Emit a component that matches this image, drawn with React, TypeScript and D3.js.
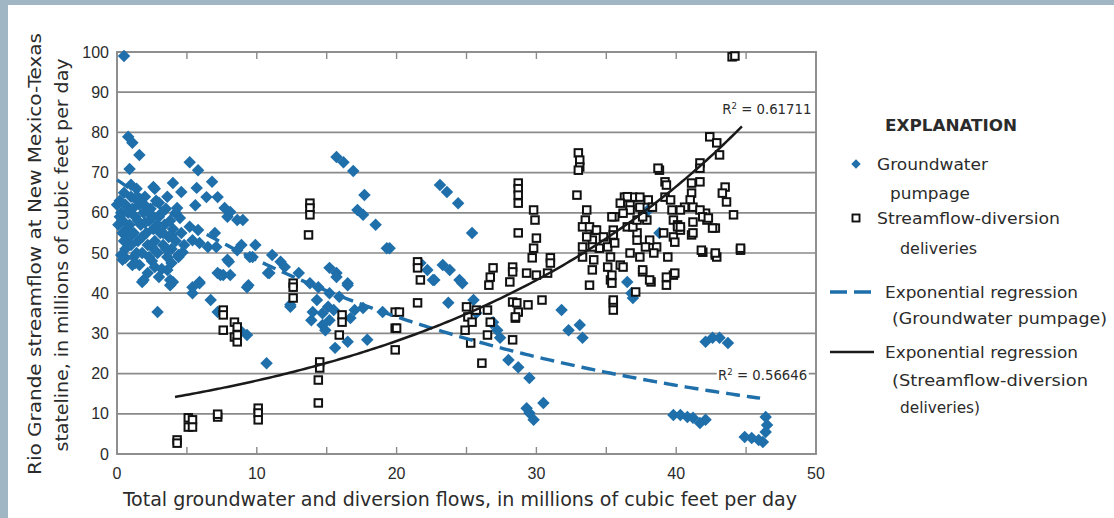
import React, { useEffect, useRef } from 'react';
import * as d3 from 'd3';

// groundwater pumpage points [total flow, streamflow]
const pumpage: [number, number][] = [
  [0.5, 99], [0.8, 78.9], [1.1, 77.4], [1.6, 74.4], [0.9, 70.9], [5.2, 72.6], [5.8, 70.6], [4.0, 67.4],
  [4.6, 65.2], [2.6, 66.4], [5.7, 66.2], [6.8, 67.7], [6.4, 63.9], [7.2, 63.9], [5.6, 61.9], [7.7, 61.2],
  [7.9, 59.0], [8.6, 58.2],
  [0.6, 48.8], [1.9, 43.3], [1.3, 47.5], [3.9, 47.5], [4.4, 49.5], [4.7, 50.2], [3.6, 45.8], [4.0, 42.8],
  [5.4, 41.5], [5.9, 42.8], [7.2, 45.0], [7.6, 44.5], [7.9, 48.3], [7.0, 55.0], [5.4, 53.2], [5.9, 52.5],
  [6.5, 51.5], [7.1, 51.5], [8.6, 50.7], [4.3, 61.2], [4.5, 58.7], [5.2, 56.5], [5.8, 55.7],
  [0.2, 63], [0.3, 60], [0.4, 58], [0.5, 65], [0.6, 62], [0.8, 60], [0.9, 57], [1.0, 64], [1.1, 61],
  [1.2, 55], [1.3, 59], [1.4, 66], [1.5, 53], [1.6, 62], [1.7, 57], [1.8, 50], [1.9, 60], [2.0, 64],
  [2.1, 55], [2.2, 52], [2.3, 58], [2.4, 61], [2.5, 48], [2.6, 56], [2.7, 53], [2.8, 63], [2.9, 50],
  [3.0, 59], [3.1, 55], [3.2, 46], [3.3, 52], [3.4, 57], [3.5, 61], [3.6, 49], [3.7, 54], [3.8, 58],
  [3.9, 51], [4.0, 56], [4.2, 53], [4.4, 49], [0.6, 51], [0.9, 54], [1.2, 49], [1.6, 47], [2.2, 45],
  [2.4, 59.5], [1.0, 67], [0.4, 55], [2.0, 57.5], [3.0, 62.5], [2.7, 66], [1.5, 58], [3.6, 64], [4.2, 60],
  [0.1, 57], [0.3, 49.5], [1.8, 54], [2.5, 51.5], [3.2, 60],
  [0.0, 62], [0.2, 59], [0.7, 56], [1.0, 52], [1.4, 50], [1.7, 63], [2.1, 61.5], [2.6, 59], [2.9, 57],
  [3.3, 55], [3.5, 51], [1.3, 63.5], [0.5, 53], [2.3, 49], [3.9, 54.5], [4.6, 55], [4.8, 52], [3.0, 44],
  [2.7, 46.5],
  [15.7, 73.9], [16.2, 72.6], [16.9, 70.4], [17.7, 64.4], [17.2, 60.7], [17.6, 59.5], [18.5, 57.0],
  [19.3, 51.2], [8.1, 60.2], [9.0, 58.2], [8.9, 52.0], [9.9, 52.0], [9.5, 49.0], [11.1, 49.5], [11.7, 47.8],
  [12.0, 46.5], [10.8, 45.0], [9.4, 42.0], [13.0, 45.0], [13.8, 42.5], [14.4, 41.5], [15.2, 46.3],
  [15.7, 45.0], [16.5, 42.0], [15.2, 40.0], [15.9, 39.1], [14.3, 38.3], [15.1, 36.6], [14.0, 35.3],
  [14.7, 35.0], [15.5, 35.8], [12.4, 36.6], [17.6, 36.3], [16.7, 33.8], [13.9, 33.3], [14.7, 32.1],
  [15.2, 33.3], [19.0, 35.3],
  [15.6, 26.4], [16.5, 27.9], [17.9, 28.4], [14.9, 30.8], [16.5, 42.5], [15.7, 44.0], [17.0, 35.8],
  [10.7, 22.6], [2.9, 35.3], [1.8, 42.8], [0.4, 48.3], [1.1, 47.0], [3.8, 43.3], [3.8, 42.0], [5.4, 40.0],
  [5.9, 42.5], [6.7, 38.3], [7.2, 35.3], [7.4, 44.5], [8.1, 44.5], [8.0, 47.8], [9.3, 41.5], [9.3, 29.6],
  [8.8, 30.8], [10.9, 45.0], [12.4, 37.1], [9.7, 49.0],
  [23.1, 66.9], [23.6, 65.2], [24.4, 62.4], [25.4, 55.0], [19.5, 51.2], [23.3, 47.0], [23.8, 45.8],
  [24.5, 43.3], [22.6, 43.3], [22.2, 45.8], [24.7, 42.5], [23.7, 37.6], [25.5, 38.3], [27.2, 30.8],
  [27.4, 28.9], [26.8, 32.6],
  [21.7, 47.5], [22.7, 43.3], [25.7, 35.1], [26.9, 32.8], [28.0, 23.4], [28.7, 21.6], [29.5, 18.9],
  [29.3, 11.4], [29.5, 10.2], [29.8, 8.5], [30.5, 12.7], [31.8, 35.8], [32.3, 30.8], [33.1, 32.1],
  [33.3, 28.9], [36.5, 42.8], [36.9, 38.8], [36.8, 40.0], [42.1, 27.9], [42.6, 28.9], [43.1, 28.9],
  [43.7, 27.6], [39.8, 9.7], [40.3, 9.7], [40.8, 9.2], [41.2, 9.0], [41.7, 7.7], [42.1, 8.5], [44.9, 4.2],
  [45.4, 4.0], [45.9, 3.5], [46.2, 3.0], [46.4, 9.2], [46.5, 7.2], [46.4, 5.5], [38.0, 60.7], [38.8, 55.0],
];

// streamflow-diversion deliveries points
const deliveries: [number, number][] = [
  [4.3, 3.5], [4.3, 2.7], [5.1, 9.0], [5.1, 6.7], [5.4, 8.5], [5.4, 6.7], [7.2, 9.2], [7.2, 9.9],
  [10.1, 11.4], [10.1, 10.2], [10.1, 8.5],
  [7.6, 35.8], [7.6, 34.6], [7.6, 30.8], [8.4, 32.8], [8.6, 31.6], [8.4, 29.1], [8.6, 27.9], [8.6, 29.6],
  [12.6, 42.5], [12.6, 41.5], [12.6, 38.8], [14.5, 22.9], [14.5, 21.4], [14.4, 18.4], [14.4, 12.7],
  [16.1, 34.6], [16.1, 32.8], [15.9, 29.6], [19.9, 35.3], [19.9, 31.3], [19.9, 25.9],
  [13.8, 62.4], [13.8, 61.2], [13.8, 59.5], [13.7, 54.5],
  [21.5, 47.8], [21.5, 46.3], [21.7, 43.3], [21.5, 37.6], [20.2, 35.3], [20.0, 31.3],
  [25.0, 36.6], [25.1, 34.1], [24.9, 30.8], [25.4, 32.8], [25.7, 35.8], [25.3, 27.6], [26.5, 35.8],
  [26.7, 32.8], [26.5, 29.6], [26.9, 46.3], [26.7, 44.0], [26.6, 42.0], [28.3, 46.5], [28.3, 45.3],
  [28.1, 42.8], [28.3, 37.8], [28.6, 37.6], [28.7, 35.3], [28.5, 33.8], [29.4, 37.1], [30.4, 38.3],
  [28.3, 28.4],
  [28.7, 67.4], [28.7, 66.0], [28.7, 64.4], [28.7, 62.4], [28.7, 55.0], [29.8, 60.7], [29.9, 58.2],
  [30.0, 53.7], [29.8, 51.2], [29.7, 48.8], [31.0, 48.8], [31.0, 47.5], [30.8, 45.0], [30.0, 44.5],
  [29.3, 45.0],
  [26.1, 22.6], [28.5, 34.1], [33.8, 42.0], [35.3, 43.3], [35.5, 37.6], [35.5, 35.8], [35.3, 49.0],
  [36.0, 47.0], [37.6, 45.3], [38.2, 42.8], [39.3, 42.0], [39.8, 44.5], [37.1, 40.3], [42.8, 49.5],
  [44.6, 50.7], [41.9, 50.2],
  [44.0, 98.8], [44.2, 99.0],
  [42.4, 78.9], [42.9, 77.4], [43.1, 74.4], [41.7, 72.4], [41.7, 71.1], [41.7, 67.7], [41.1, 67.4],
  [41.1, 64.9], [43.5, 66.4], [43.3, 64.9], [43.6, 62.7], [44.1, 59.5], [42.8, 56.2], [44.6, 51.2],
  [38.8, 70.6], [39.2, 67.7], [39.2, 63.9], [39.7, 60.7], [39.8, 58.2], [40.1, 57.0], [41.1, 54.5],
  [41.8, 50.7], [42.9, 49.0],
  [33.0, 74.9], [33.1, 73.1], [33.1, 71.4], [33.0, 70.6], [32.9, 64.4], [33.6, 60.7], [33.5, 58.2],
  [33.3, 56.5],
  [36.3, 63.9], [36.9, 63.9], [37.4, 63.9], [38.0, 63.2], [36.7, 61.9], [35.6, 59.0], [35.5, 55.7],
  [34.2, 55.7], [34.0, 53.2], [34.5, 51.2], [35.5, 53.2], [36.5, 56.5], [37.2, 55.0], [37.9, 58.2],
  [38.3, 61.4], [39.1, 55.0], [39.8, 54.0], [40.3, 55.7], [41.2, 57.7], [42.1, 59.9], [42.2, 58.2],
  [33.6, 54.0], [33.3, 51.5], [34.0, 51.5], [33.3, 49.0], [34.1, 48.3], [34.0, 45.8], [35.1, 51.5],
  [35.4, 59.0], [35.5, 54.5], [35.6, 52.5], [35.1, 46.5], [35.4, 44.5], [35.4, 42.5], [35.5, 38.3],
  [36.2, 46.5], [36.5, 64.0], [37.4, 61.4], [36.7, 60.7], [36.9, 56.5], [37.2, 53.2], [36.7, 50.0],
  [37.4, 49.0], [37.6, 45.8], [38.1, 43.3], [38.7, 71.1], [39.3, 66.9], [39.6, 63.2], [40.1, 56.5],
  [39.9, 52.7], [39.4, 49.0], [39.3, 44.0], [39.9, 45.0], [38.6, 51.5], [38.1, 53.2], [38.4, 50.0],
  [37.8, 51.5], [37.2, 58.2], [37.6, 59.0], [36.2, 59.9], [36.0, 62.4], [33.8, 56.5], [34.3, 55.7],
  [34.8, 54.0],
  [41.0, 63.2], [40.6, 61.4], [41.2, 61.4], [41.7, 60.7], [41.9, 59.0], [42.3, 58.7], [42.6, 56.2],
  [41.2, 55.0], [42.8, 50.0], [40.3, 60.7], [40.3, 56.5],
];

// exponential regressions y = a * exp(b * x)
const pumpageFit = { a: 68.2, b: -0.0346, from: 0, to: 46 };
const deliveriesFit = { a: 11.87, b: 0.0431, from: 4.15, to: 44.7 };

const xTicks = [0, 10, 20, 30, 40, 50];
const xMinorTicks = [5, 10, 15, 20, 25, 30, 35, 40, 45];
const yTicks = [0, 10, 20, 30, 40, 50, 60, 70, 80, 90, 100];

const BLUE = '#1f6fab';
const GRID = '#8a8a8a';
const TEXT = '#2b2b2b';
const FONT = "'Liberation Sans Narrow', 'DejaVu Sans Condensed', 'Liberation Sans', Arial, sans-serif";
const TICK_FONT = "'Liberation Sans', Arial, sans-serif";

const App = () => {
  const svgRef = useRef<SVGSVGElement | null>(null);

  useEffect(() => {
    const svg = d3.select(svgRef.current);
    svg.selectAll('*').remove();

    // page frame
    svg.append('rect').attr('width', 1114).attr('height', 518).attr('fill', '#a0b6c4');
    svg.append('rect').attr('x', 8).attr('y', 5).attr('width', 1106).attr('height', 513).attr('fill', '#fff');

    const margin = { left: 117, top: 52 };
    const width = 699;
    const height = 402;

    const x = d3.scaleLinear().domain([0, 50]).range([0, width]);
    const y = d3.scaleLinear().domain([0, 100]).range([height, 0]);

    const g = svg.append('g').attr('transform', `translate(${margin.left},${margin.top})`);

    // gridlines
    g.selectAll('.grid')
      .data(yTicks.slice(1, -1))
      .join('line')
      .attr('x1', 0).attr('x2', width)
      .attr('y1', d => y(d)).attr('y2', d => y(d))
      .attr('stroke', GRID).attr('stroke-width', 1.7);

    g.append('rect')
      .attr('width', width).attr('height', height)
      .attr('fill', 'none').attr('stroke', GRID).attr('stroke-width', 1.9);

    // inner ticks top and bottom
    g.selectAll('.tt')
      .data(xMinorTicks)
      .join('line')
      .attr('x1', d => x(d)).attr('x2', d => x(d))
      .attr('y1', 0).attr('y2', 7)
      .attr('stroke', GRID).attr('stroke-width', 1.4);
    g.selectAll('.tb')
      .data(xMinorTicks)
      .join('line')
      .attr('x1', d => x(d)).attr('x2', d => x(d))
      .attr('y1', height).attr('y2', height - 7)
      .attr('stroke', GRID).attr('stroke-width', 1.4);

    // tick labels
    g.selectAll('.yl')
      .data(yTicks)
      .join('text')
      .attr('x', -8).attr('y', d => y(d) + 5.5)
      .attr('text-anchor', 'end')
      .style('font-family', TICK_FONT).style('font-size', '16px').style('fill', TEXT)
      .text(d => d);
    g.selectAll('.xl')
      .data(xTicks)
      .join('text')
      .attr('x', d => x(d)).attr('y', height + 25)
      .attr('text-anchor', 'middle')
      .style('font-family', TICK_FONT).style('font-size', '16px').style('fill', TEXT)
      .text(d => d);

    // points
    const diamond = d3.symbol().type(d3.symbolSquare).size(78)();
    g.selectAll('.gw')
      .data(pumpage)
      .join('path')
      .attr('d', diamond)
      .attr('transform', d => `translate(${x(d[0])},${y(d[1])}) rotate(45)`)
      .attr('fill', BLUE);

    const s = 7.5;
    g.selectAll('.sd')
      .data(deliveries)
      .join('rect')
      .attr('x', d => x(d[0]) - s / 2).attr('y', d => y(d[1]) - s / 2)
      .attr('width', s).attr('height', s)
      .attr('fill', '#fff').attr('stroke', '#111').attr('stroke-width', 2);

    // regression curves
    const curve = (fit: { a: number; b: number; from: number; to: number }) =>
      d3.range(fit.from, fit.to, 0.25).concat([fit.to]).map(v => [v, fit.a * Math.exp(fit.b * v)] as [number, number]);
    const line = d3.line<[number, number]>().x(d => x(d[0])).y(d => y(d[1]));

    g.append('path')
      .attr('d', line(curve(pumpageFit)))
      .attr('fill', 'none').attr('stroke', BLUE).attr('stroke-width', 3.4)
      .attr('stroke-dasharray', '14,7');
    g.append('path')
      .attr('d', line(curve(deliveriesFit)))
      .attr('fill', 'none').attr('stroke', '#1a1a1a').attr('stroke-width', 2.5);

    // R² labels
    const r2a = g.append('text')
      .attr('x', x(43.3)).attr('y', y(84.6))
      .style('font-family', FONT).style('font-size', '14px').style('fill', TEXT)
      .attr('textLength', 89).attr('lengthAdjust', 'spacingAndGlyphs');
    r2a.append('tspan').text('R');
    r2a.append('tspan').attr('dy', -5).style('font-size', '9px').text('2');
    r2a.append('tspan').attr('dy', 5).text(' = 0.61711');

    g.append('rect')
      .attr('x', x(42.9)).attr('y', y(20) - 9)
      .attr('width', 92).attr('height', 18).attr('fill', '#fff');
    const r2b = g.append('text')
      .attr('x', x(43.0)).attr('y', y(20) + 6)
      .style('font-family', FONT).style('font-size', '14px').style('fill', TEXT)
      .attr('textLength', 89).attr('lengthAdjust', 'spacingAndGlyphs');
    r2b.append('tspan').text('R');
    r2b.append('tspan').attr('dy', -5).style('font-size', '9px').text('2');
    r2b.append('tspan').attr('dy', 5).text(' = 0.56646');

    // axis titles
    const title = (tx: string, px: number, py: number, len: number, size: number, rotate: boolean) =>
      svg.append('text')
        .attr('transform', `translate(${px},${py})${rotate ? ' rotate(-90)' : ''}`)
        .attr('text-anchor', 'middle')
        .attr('textLength', len).attr('lengthAdjust', 'spacingAndGlyphs')
        .style('font-family', FONT).style('font-size', `${size}px`).style('fill', TEXT)
        .text(tx);
    title('Total groundwater and diversion flows, in millions of cubic feet per day', 460, 506, 674, 19, false);
    title('Rio Grande streamflow at New Mexico-Texas', 41, 254, 442, 18, true);
    title('stateline, in millions of cubic feet per day', 68, 255, 393, 18, true);

    // legend
    const legendText = (tx: string, px: number, py: number, len: number, bold = false) =>
      svg.append('text')
        .attr('x', px).attr('y', py)
        .attr('textLength', len).attr('lengthAdjust', 'spacingAndGlyphs')
        .style('font-family', FONT).style('font-size', '16px').style('fill', TEXT)
        .style('font-weight', bold ? 'bold' : 'normal')
        .text(tx);

    legendText('EXPLANATION', 885, 131, 132, true);
    svg.append('path').attr('d', d3.symbol().type(d3.symbolSquare).size(44)())
      .attr('transform', 'translate(856,164) rotate(45)').attr('fill', BLUE);
    legendText('Groundwater', 877, 170, 111);
    legendText('pumpage', 890, 199, 80);
    svg.append('rect').attr('x', 852.5).attr('y', 214.5).attr('width', 7).attr('height', 7)
      .attr('fill', '#fff').attr('stroke', '#111').attr('stroke-width', 1.9);
    legendText('Streamflow-diversion', 877, 224, 183);
    legendText('deliveries', 900, 254, 77);
    svg.append('line').attr('x1', 830).attr('x2', 874).attr('y1', 292).attr('y2', 292)
      .attr('stroke', BLUE).attr('stroke-width', 3.4).attr('stroke-dasharray', '17,7');
    legendText('Exponential regression', 885, 298, 193);
    legendText('(Groundwater pumpage)', 892, 324, 215);
    svg.append('line').attr('x1', 830).attr('x2', 874).attr('y1', 352).attr('y2', 352)
      .attr('stroke', '#1a1a1a').attr('stroke-width', 2.6);
    legendText('Exponential regression', 885, 358, 193);
    legendText('(Streamflow-diversion', 892, 386, 196);
    legendText('deliveries)', 900, 413, 80);
  }, []);

  return (
    <div style={{ position: 'absolute', left: 0, top: 0 }}>
      <svg ref={svgRef} width={1114} height={518} style={{ display: 'block' }}></svg>
    </div>
  );
};

export default App;
